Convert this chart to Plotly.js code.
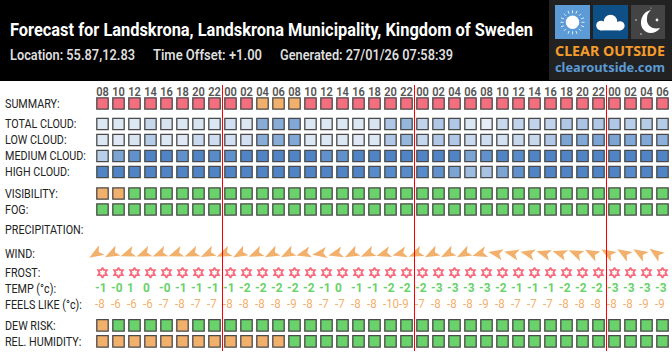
<!DOCTYPE html>
<html><head><meta charset="utf-8">
<script src="https://cdn.plot.ly/plotly-3.0.1.min.js"></script>
<style>html,body{margin:0;padding:0;background:#fff;overflow:hidden}#c{width:672px;height:352px}</style>
</head><body><div id="c"></div>
<script>
const FONT = 'Roboto, sans-serif';
const hours = ["08","10","12","14","16","18","20","22","00","02","04","06","08","10","12","14","16","18","20","22","00","02","04","06","08","10","12","14","16","18","20","22","00","02","04","06"];
const rowLabels = ["SUMMARY:","TOTAL CLOUD:","LOW CLOUD:","MEDIUM CLOUD:","HIGH CLOUD:","VISIBILITY:","FOG:","PRECIPITATION:","WIND:","FROST:","TEMP (°c):","FEELS LIKE (°c):","DEW RISK:","REL. HUMIDITY:"];
const rowPixels = [103.5,124,140,156,172,193.5,209.5,230,253.5,272.7,289,305,325.4,341.4];
const totalCloud = [20,20,20,32,22,20,22,20,26,20,68,68,72,20,20,20,20,22,45,60,35,45,45,20,15,30,35,35,35,45,48,45,45,40,42,42];
const lowCloud = [20,18,22,42,20,18,30,28,26,26,68,68,72,20,20,20,18,20,45,60,33,45,45,30,28,25,32,32,45,75,72,75,75,72,72,65];
const mediumCloud = [40,75,90,100,100,90,100,95,90,100,100,100,100,100,90,90,100,100,100,100,100,100,100,75,90,100,95,100,100,100,100,100,100,100,100,100];
const highCloud = [100,100,100,100,100,100,100,100,100,100,100,100,100,100,100,100,100,95,95,95,95,90,75,55,50,75,90,100,100,100,100,100,100,95,100,100];
const O="#f2b06d",G="#69d26a",P="#f46e7e";
const summary = [P,P,P,P,P,P,P,P,P,P,O,O,O,P,P,P,P,P,P,P,P,P,P,P,P,P,P,P,P,P,P,P,P,P,P,P];
const visibility = [O,O,G,G,G,G,G,G,G,G,G,G,G,G,G,G,G,G,G,G,G,G,G,G,G,G,G,G,G,G,G,G,G,G,G,G];
const fog = Array.from(hours,()=>G);
const dewRisk = [O,G,G,G,G,O,G,G,G,G,G,G,G,G,G,G,G,G,G,G,G,G,G,G,G,G,G,G,G,G,G,G,G,G,G,G];
const humidity = [O,O,O,O,O,O,O,O,O,O,O,O,G,G,G,G,G,G,G,G,G,G,G,G,G,G,G,G,G,G,G,G,G,G,G,G];
const windAngle = [238,243,250,248,248,250,248,245,246,241,246,243,243,255,261,255,243,246,253,255,246,243,243,243,253,281,283,283,286,288,293,298,301,301,301,305];
const tempLabels = ["-1","-0","1","0","-0","-1","-1","-1","-1","-2","-2","-2","-2","-2","-1","0","-1","-1","-2","-2","-2","-3","-3","-3","-3","-2","-1","-1","-1","-2","-2","-2","-3","-3","-3","-3"];
const feelsLabels = ["-8","-6","-6","-6","-7","-8","-7","-7","-8","-8","-8","-8","-9","-8","-7","-7","-8","-8","-10","-9","-7","-8","-8","-8","-9","-8","-7","-7","-7","-8","-8","-8","-8","-8","-9","-9"];
const titleText = "Forecast for Landskrona, Landskrona Municipality, Kingdom of Sweden";
const infoTexts = ["Location: 55.87,12.83","Time Offset: +1.00","Generated: 27/01/26 07:58:39"];

const idx = hours.map((_,i)=>i);
const rowY = l => rowPixels[rowLabels.indexOf(l)];
const same = (l) => hours.map(()=>rowY(l));
const box = (l,color,extra) => ({type:'scatter',mode:'markers',x:idx,y:same(l),hoverinfo:'skip',showlegend:false,
  marker:Object.assign({symbol:'square',size:11.4,color:color,line:{color:'#4a4a4a',width:1.3}},extra||{})});
const cloudScale = {cmin:0,cmax:100,colorscale:[[0,'#ffffff'],[1,'#4f85c6']],showscale:false};
const txt = (l,t,font) => ({type:'scatter',mode:'text',x:idx.map(i=>i-0.47),y:same(l),text:t,textposition:'middle right',hoverinfo:'skip',showlegend:false,textfont:font});

const traces = [
  box("SUMMARY:",summary),
  box("TOTAL CLOUD:",totalCloud,cloudScale),
  box("LOW CLOUD:",lowCloud,cloudScale),
  box("MEDIUM CLOUD:",mediumCloud,cloudScale),
  box("HIGH CLOUD:",highCloud,cloudScale),
  box("VISIBILITY:",visibility),
  box("FOG:",fog),
  box("DEW RISK:",dewRisk),
  box("REL. HUMIDITY:",humidity),
  {type:'scatter',mode:'markers',x:idx.map(i=>i-0.39),y:same("WIND:"),hoverinfo:'skip',showlegend:false,
    marker:{symbol:'triangle-up',size:12,color:O,line:{width:0}}},
  {type:'scatter',mode:'markers',x:idx,y:same("FROST:"),hoverinfo:'skip',showlegend:false,
    marker:{symbol:'hexagram-open',size:7.6,color:P,line:{color:P,width:1.8}}},
  txt("TEMP (°c):",tempLabels,{family:FONT,size:12.5,color:G,weight:700}),
  txt("FEELS LIKE (°c):",feelsLabels,{family:FONT,size:12.5,color:O})
];
const WIND_TRACE = 9;

const px = x => x/672, py = y => 1-y/352;
const mapPath = p => p.replace(/(-?[\d.]+) (-?[\d.]+)/g,(m,a,b)=>px(+a).toFixed(5)+' '+py(+b).toFixed(5));
const rect = (x0,y0,x1,y1,color,layer) => ({type:'rect',xref:'paper',yref:'paper',x0:px(x0),x1:px(x1),y0:py(y0),y1:py(y1),fillcolor:color,line:{width:0},layer:layer||'below'});
const circ = (cx,cy,r,color) => ({type:'circle',xref:'paper',yref:'paper',x0:px(cx-r),x1:px(cx+r),y0:py(cy-r),y1:py(cy+r),fillcolor:color,line:{width:0},layer:'below'});
const path = (d,color) => ({type:'path',xref:'paper',yref:'paper',path:mapPath(d),fillcolor:color,line:{width:0},layer:'below'});
const seg = (x0,y0,x1,y1,color,w) => ({type:'line',xref:'paper',yref:'paper',x0:px(x0),x1:px(x1),y0:py(y0),y1:py(y1),line:{color:color,width:w},layer:'below'});

const shapes = [rect(0,0,672,81,'#000000'),rect(549,0,672,80,'#222222'),
  rect(555,5,590,39,'#5c9bd6'),rect(593,5,628,39,'#0e4f85'),rect(631,5,665,39,'#444444'),
  circ(572.5,22.3,6.7,'#ffffff')];
[[0,-12,0,-9],[0,12,0,9],[-12,0,-9,0],[12,0,9,0],[-8.5,-8.5,-6.5,-6.5],[8.5,-8.5,6.5,-6.5],[-8.5,8.5,-6.5,6.5],[8.5,8.5,6.5,6.5],[-4.5,-11.5,-3.4,-8.6],[4.5,-11.5,3.4,-8.6],[-4.5,11.5,-3.4,8.6],[4.5,11.5,3.4,8.6],[-11.5,-4.5,-8.6,-3.4],[11.5,-4.5,8.6,-3.4],[-11.5,4.5,-8.6,3.4],[11.5,4.5,8.6,3.4]]
  .forEach(s=>shapes.push(seg(572.5+s[0],22.3+s[1],572.5+s[2],22.3+s[3],'#e2eef8',1)));
shapes.push(circ(601,25.5,4.8,'#fff'),circ(610.5,21.5,6.8,'#fff'),circ(620,25.8,4.6,'#fff'),rect(600,24,620,30.4,'#fff'));
shapes.push(path('M 651 10 C 641 12 639 24 643 29 C 647 35 656 34 660 28 C 652 30 646 25 647 18 C 647 14 649 12 651 10 Z','#ffffff'));
shapes.push(circ(657,20,1.4,'#eee'),circ(636,20,0.8,'#ddd'),circ(641,34,0.8,'#ddd'),circ(651,8,0.5,'#ddd'));
hours.forEach((h,i)=>{ if(h==="00") shapes.push({type:'line',xref:'x',yref:'y',x0:i-0.5,x1:i-0.5,y0:85,y1:351,line:{color:'#ff0000',width:1},layer:'above'}); });

const annFits = [[10,523],[10,125],[153,109],[280,173],[555,110],[555,110]];
const ann = (x,y,t,size,color,family,weight) => ({xref:'paper',yref:'paper',x:px(x),y:py(y),text:t,showarrow:false,xanchor:'left',yanchor:'middle',borderpad:0,font:{size:size,color:color,family:family,weight:weight||400}});
const annotations = [
  ann(10,29,titleText,19,'#ffffff',FONT,700),
  ann(10,55,infoTexts[0],15.5,'#dddddd',FONT,600),
  ann(153,55,infoTexts[1],15.5,'#dddddd',FONT,600),
  ann(280,55,infoTexts[2],15.5,'#dddddd',FONT,600),
  ann(555,51.5,"CLEAR OUTSIDE",13.5,'#f39c2c','"Noto Sans", sans-serif',700),
  ann(555,68,"clearoutside.com",12,'#5b9bd5','"Noto Sans", sans-serif',700)
];

const layout = {width:672,height:352,margin:{l:0,r:0,t:0,b:0,pad:0},paper_bgcolor:'#fff',plot_bgcolor:'rgba(0,0,0,0)',showlegend:false,
  xaxis:{range:[-102.5/16,(672-102.5)/16],anchor:'free',position:py(98),side:'top',tickmode:'array',tickvals:idx,ticktext:hours,ticks:'',showgrid:false,zeroline:false,showline:false,
    tickfont:{family:FONT,size:12,color:'#555',weight:600},tickangle:0,ticklabeloverflow:'allow'},
  yaxis:{range:[352,0],tickmode:'array',tickvals:rowPixels,ticktext:rowLabels,ticklabelposition:'inside',ticks:'',showgrid:false,zeroline:false,showline:false,
    tickfont:{family:FONT,size:12.5,color:'#222'},ticklabelstandoff:2},
  shapes:shapes,annotations:annotations};

const condense = (el,f) => { const w = el.getComputedTextLength(); el.setAttribute('textLength',(w*f).toFixed(2)); el.setAttribute('lengthAdjust','spacingAndGlyphs'); };

Plotly.newPlot('c',traces,layout,{displayModeBar:false,staticPlot:true}).then(gd=>{
  const t = gd.querySelectorAll('.scatterlayer .trace')[WIND_TRACE];
  if(t) t.querySelectorAll('path.point').forEach((p,i)=>{
    const a = windAngle[i]*Math.PI/180, c=Math.cos(a), s=Math.sin(a);
    const pts = [[0,-8.2],[5.6,6.5],[0,3],[-5.6,6.5]].map(q=>(q[0]*c-q[1]*s).toFixed(2)+','+(q[0]*s+q[1]*c).toFixed(2));
    p.setAttribute('d','M'+pts.join('L')+'Z');
  });
  gd.querySelectorAll('.xtick, .xtick text').forEach(e=>{e.style.display='';e.style.opacity='1';});
  gd.querySelectorAll('.xtick text').forEach(e=>condense(e,0.92));
  gd.querySelectorAll('.ytick text').forEach(e=>condense(e,0.86));
  const tl = gd.querySelectorAll('.scatterlayer .trace');
  tl[WIND_TRACE+2].querySelectorAll('text').forEach(e=>condense(e,0.95));
  tl[WIND_TRACE+3].querySelectorAll('text').forEach(e=>condense(e,0.92));
  const root = gd.getBoundingClientRect().left;
  gd.querySelectorAll('.annotation-text').forEach((e,i)=>{
    const f = annFits[i]; if(!f) return;
    e.setAttribute('text-anchor','start');
    e.setAttribute('textLength',f[1]); e.setAttribute('lengthAdjust','spacingAndGlyphs');
    const left = e.getBoundingClientRect().left-root;
    e.setAttribute('x',(+e.getAttribute('x')+f[0]-left).toFixed(2));
  });
});
</script></body></html>
